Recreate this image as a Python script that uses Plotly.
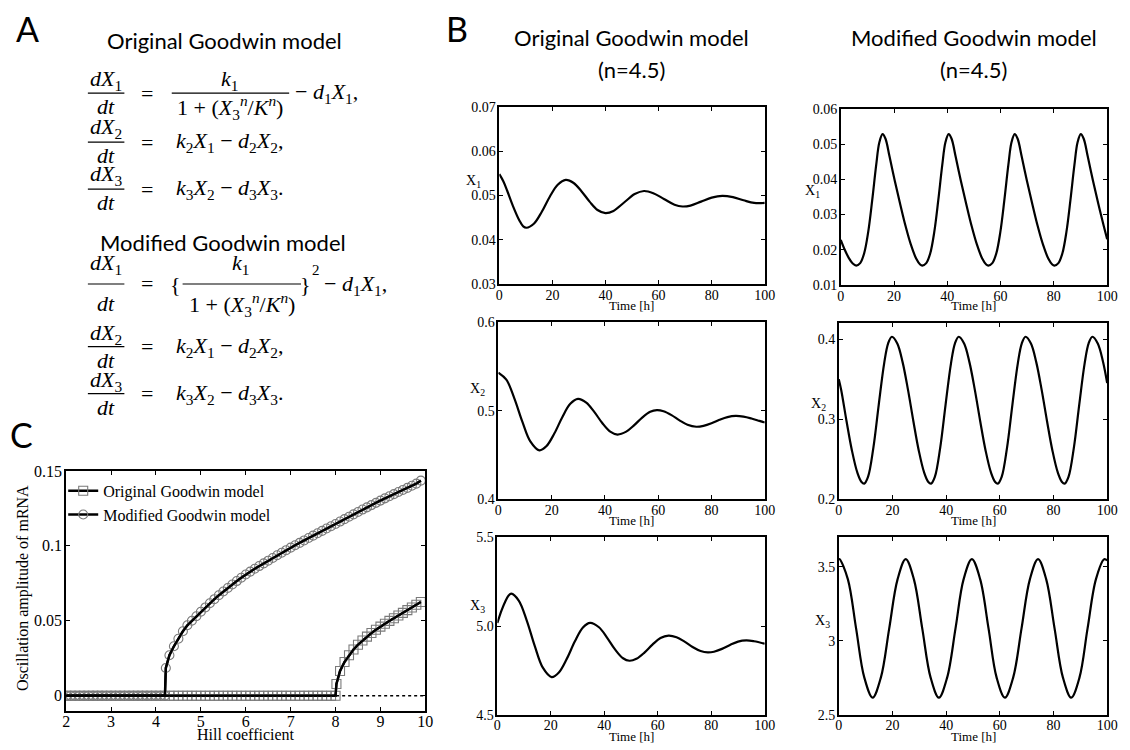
import plotly.graph_objects as go

W, H = 1130, 750


def fx(p):
    return p / W


def fy(p):
    return 1 - p / H


SERIF = "Liberation Serif, Times New Roman, serif"
SANS = "Lato, Noto Sans, sans-serif"

# ---------------- Panel C data (Hill coefficient vs amplitude) ----------------
hill_original = [2.0, 2.1, 2.2, 2.3, 2.4, 2.5, 2.6, 2.7, 2.8, 2.9,
                 3.0, 3.1, 3.2, 3.3, 3.4, 3.5, 3.6, 3.7, 3.8, 3.9,
                 4.0, 4.1, 4.2, 4.3, 4.4, 4.5, 4.6, 4.7, 4.8, 4.9,
                 5.0, 5.1, 5.2, 5.3, 5.4, 5.5, 5.6, 5.7, 5.8, 5.9,
                 6.0, 6.1, 6.2, 6.3, 6.4, 6.5, 6.6, 6.7, 6.8, 6.9,
                 7.0, 7.1, 7.2, 7.3, 7.4, 7.5, 7.6, 7.7, 7.8, 7.9,
                 8.0, 8.02, 8.1, 8.2, 8.3, 8.4, 8.5, 8.6, 8.7, 8.8,
                 8.9, 9.0, 9.1, 9.2, 9.3, 9.4, 9.5, 9.6, 9.7, 9.8, 9.9]
amp_original = [0.0, 0.0, 0.0, 0.0, 0.0, 0.0, 0.0, 0.0, 0.0, 0.0,
                0.0, 0.0, 0.0, 0.0, 0.0, 0.0, 0.0, 0.0, 0.0, 0.0,
                0.0, 0.0, 0.0, 0.0, 0.0, 0.0, 0.0, 0.0, 0.0, 0.0,
                0.0, 0.0, 0.0, 0.0, 0.0, 0.0, 0.0, 0.0, 0.0, 0.0,
                0.0, 0.0, 0.0, 0.0, 0.0, 0.0, 0.0, 0.0, 0.0, 0.0,
                0.0, 0.0, 0.0, 0.0, 0.0, 0.0, 0.0, 0.0, 0.0, 0.0,
                0.0, 0.0078, 0.0165, 0.0225, 0.0270, 0.0308, 0.0340, 0.0368, 0.0394, 0.0418,
                0.0440, 0.0461, 0.0480, 0.0499, 0.0517, 0.0535, 0.0553, 0.0571, 0.0589, 0.0607, 0.0625]

hill_modified = [2.0, 2.1, 2.2, 2.3, 2.4, 2.5, 2.6, 2.7, 2.8, 2.9,
                 3.0, 3.1, 3.2, 3.3, 3.4, 3.5, 3.6, 3.7, 3.8, 3.9,
                 4.0, 4.1, 4.2, 4.22, 4.3, 4.4, 4.5, 4.6, 4.7, 4.8, 4.9,
                 5.0, 5.1, 5.2, 5.3, 5.4, 5.5, 5.6, 5.7, 5.8, 5.9,
                 6.0, 6.1, 6.2, 6.3, 6.4, 6.5, 6.6, 6.7, 6.8, 6.9,
                 7.0, 7.1, 7.2, 7.3, 7.4, 7.5, 7.6, 7.7, 7.8, 7.9,
                 8.0, 8.1, 8.2, 8.3, 8.4, 8.5, 8.6, 8.7, 8.8, 8.9,
                 9.0, 9.1, 9.2, 9.3, 9.4, 9.5, 9.6, 9.7, 9.8, 9.9]
amp_modified = [0.0, 0.0, 0.0, 0.0, 0.0, 0.0, 0.0, 0.0, 0.0, 0.0,
                0.0, 0.0, 0.0, 0.0, 0.0, 0.0, 0.0, 0.0, 0.0, 0.0,
                0.0, 0.0, 0.0, 0.0185, 0.0270, 0.0330, 0.0380, 0.0430, 0.0470, 0.0500, 0.0530,
                0.0560, 0.0589, 0.0617, 0.0644, 0.0670, 0.0695, 0.0719, 0.0742, 0.0765, 0.0787,
                0.0809, 0.0828, 0.0847, 0.0865, 0.0883, 0.0901, 0.0919, 0.0937, 0.0954, 0.0971,
                0.0988, 0.1004, 0.1020, 0.1036, 0.1052, 0.1068, 0.1084, 0.1100, 0.1116, 0.1131,
                0.1146, 0.1162, 0.1178, 0.1194, 0.1210, 0.1226, 0.1242, 0.1257, 0.1272, 0.1287,
                0.1302, 0.1317, 0.1331, 0.1345, 0.1359, 0.1373, 0.1387, 0.1401, 0.1415, 0.1435]

zero_line_x = [2, 10]
zero_line_y = [0, 0]

hill_ticks = [2, 3, 4, 5, 6, 7, 8, 9, 10]
amp_ticks = [0, 0.05, 0.1, 0.15]
amp_ticktext = ["0", "0.05", "0.1", "0.15"]

# ---------------- Panel B data (time courses, n = 4.5) ----------------
time_ticks = [0, 20, 40, 60, 80, 100]

t_x1_orig = [0, 1.5, 3, 5, 7.5, 9, 10.2, 13, 16, 19, 22, 25, 28, 31, 34, 37, 40, 43, 47, 51,
             54.5, 58, 62, 66, 69, 72, 76, 80, 84, 88, 92, 96, 100]
x1_orig = [0.0548, 0.0532, 0.0510, 0.0478, 0.0444, 0.0430, 0.0427, 0.0436, 0.0463, 0.0497,
           0.0524, 0.0535, 0.0528, 0.0509, 0.0486, 0.0467, 0.0460, 0.0465, 0.0484, 0.0503,
           0.0510, 0.0505, 0.0492, 0.0479, 0.0475, 0.0477, 0.0486, 0.0495, 0.0499, 0.0496,
           0.0489, 0.0483, 0.0483]

t_x2_orig = [0, 3, 6, 9, 12, 15.4, 18, 21, 24, 27, 29.9, 33, 36, 39, 42, 44.7, 48, 51, 54, 57,
             59.5, 62, 65, 68, 71, 74.3, 77, 80, 83, 86, 89.1, 92, 95, 98, 100]
x2_orig = [0.543, 0.535, 0.514, 0.4877, 0.4654, 0.4553, 0.4598, 0.4742, 0.4927, 0.5078,
           0.5133, 0.5091, 0.4987, 0.4861, 0.4763, 0.4731, 0.4764, 0.4837, 0.4923, 0.4988,
           0.5007, 0.4994, 0.4950, 0.4891, 0.4841, 0.4819, 0.4829, 0.4858, 0.4897, 0.4928,
           0.4941, 0.4933, 0.4912, 0.4885, 0.4867]

t_x3_orig = [0, 1.5, 3, 4.2, 5.2, 8, 11, 14, 17, 20.3, 23, 26, 29, 32, 34.7, 38, 41, 44, 47,
             49.4, 52, 55, 58, 61, 64, 67, 70, 73, 76, 78.7, 81, 84, 87, 90, 93.1, 96, 100]
x3_orig = [5.017, 5.085, 5.140, 5.172, 5.183, 5.144, 5.031, 4.887, 4.765, 4.712, 4.738, 4.816,
           4.914, 4.992, 5.018, 4.993, 4.935, 4.868, 4.818, 4.804, 4.815, 4.850, 4.895, 4.932,
           4.946, 4.937, 4.912, 4.882, 4.859, 4.851, 4.855, 4.871, 4.893, 4.912, 4.919, 4.914,
           4.900]

t_x1_mod = [0, 1.5, 3, 4.5, 5.8, 7.3, 8.8, 10.3, 11.8, 13.3, 14.5, 15.7, 16.8, 18.3, 20.3, 22.3,
            24.3, 26.3, 28.3, 29.8, 30.6, 32.1, 33.6, 35.1, 36.6, 38.1, 39.3, 40.5, 41.6, 43.1,
            45.1, 47.1, 49.1, 51.1, 53.1, 54.6, 55.4, 56.9, 58.4, 59.9, 61.4, 62.9, 64.1, 65.3,
            66.4, 67.9, 69.9, 71.9, 73.9, 75.9, 77.9, 79.4, 80.2, 81.7, 83.2, 84.7, 86.2, 87.7,
            88.9, 90.1, 91.2, 92.7, 94.7, 96.7, 98.7, 100]
x1_mod = [0.0228, 0.0200, 0.0177, 0.0161, 0.0155, 0.0162, 0.0190, 0.0250, 0.0340, 0.0440,
          0.0505, 0.0528, 0.0515, 0.0465, 0.0395, 0.0330, 0.0268, 0.0215, 0.0175, 0.0158,
          0.0155, 0.0162, 0.0190, 0.0250, 0.0340, 0.0440, 0.0505, 0.0528, 0.0515, 0.0465,
          0.0395, 0.0330, 0.0268, 0.0215, 0.0175, 0.0158, 0.0155, 0.0162, 0.0190, 0.0250,
          0.0340, 0.0440, 0.0505, 0.0528, 0.0515, 0.0465, 0.0395, 0.0330, 0.0268, 0.0215,
          0.0175, 0.0158, 0.0155, 0.0162, 0.0190, 0.0250, 0.0340, 0.0440, 0.0505, 0.0528,
          0.0515, 0.0465, 0.0395, 0.0330, 0.0268, 0.0230]

t_x2_mod = [0, 0.9, 2.9, 4.9, 6.9, 8.4, 9.5, 10.9, 12.9, 14.9, 16.9, 18.4, 19.8,
            21.8, 23.8, 25.8, 27.8, 29.8, 31.8, 33.3, 34.4, 35.8, 37.8, 39.8, 41.8, 43.3, 44.7,
            46.7, 48.7, 50.7, 52.7, 54.7, 56.7, 58.2, 59.3, 60.7, 62.7, 64.7, 66.7, 68.2, 69.6,
            71.6, 73.6, 75.6, 77.6, 79.6, 81.6, 83.1, 84.2, 85.6, 87.6, 89.6, 91.6, 93.1, 94.5,
            96.5, 98.5, 100]
x2_mod = [0.350, 0.3366, 0.2975, 0.261, 0.2335, 0.222, 0.2196, 0.2279, 0.2645, 0.3183, 0.3695, 0.3948, 0.403,
          0.3946, 0.371, 0.3366, 0.2975, 0.261, 0.2335, 0.222, 0.2196, 0.2279, 0.2645, 0.3183, 0.3695, 0.3948, 0.403,
          0.3946, 0.371, 0.3366, 0.2975, 0.261, 0.2335, 0.222, 0.2196, 0.2279, 0.2645, 0.3183, 0.3695, 0.3948, 0.403,
          0.3946, 0.371, 0.3366, 0.2975, 0.261, 0.2335, 0.222, 0.2196, 0.2279, 0.2645, 0.3183, 0.3695, 0.3948, 0.403,
          0.3946, 0.371, 0.345]

t_x3_mod = [0, 0.3, 3.4, 6.45, 9.5, 12.6, 15.7, 18.8, 21.9, 24.95, 28.0, 31.1, 34.2, 37.3, 40.4,
            43.5, 46.5, 49.6, 52.7, 55.8, 58.8, 61.9, 65.0, 68.1, 71.2, 74.25, 77.3, 80.4, 83.5,
            86.6, 89.7, 92.7, 95.8, 98.9, 100]
x3_mod = [3.552, 3.553, 3.416, 3.084, 2.752, 2.615, 2.752, 3.084, 3.416, 3.553, 3.416, 3.084,
          2.752, 2.615, 2.752, 3.084, 3.416, 3.553, 3.416, 3.084, 2.752, 2.615, 2.752, 3.084,
          3.416, 3.553, 3.416, 3.084, 2.752, 2.615, 2.752, 3.084, 3.416, 3.553, 3.545]

# ---------------- figure ----------------
fig = go.Figure()

panels = [
    dict(xp=(63, 427), yp=(473, 718), xr=[2, 10], yr=[-0.01, 0.15], yt=amp_ticks, ytt=amp_ticktext,
         xt=hill_ticks, fs=16, lw=1.8, xso=-5),
    dict(xp=(502, 771), yp=(101, 282), xr=[0, 100], yr=[0.03, 0.07], yt=[0.03, 0.04, 0.05, 0.06, 0.07],
         ytt=["0.03", "0.04", "0.05", "0.06", "0.07"], xt=time_ticks, fs=14, lw=1.6, xso=-3),
    dict(xp=(848, 1118), yp=(103, 283), xr=[0, 100], yr=[0.01, 0.06], yt=[0.01, 0.02, 0.03, 0.04, 0.05, 0.06],
         ytt=["0.01", "0.02", "0.03", "0.04", "0.05", "0.06"], xt=time_ticks, fs=14, lw=1.6, xso=-3),
    dict(xp=(501, 771), yp=(321, 502), xr=[0, 100], yr=[0.4, 0.6], yt=[0.4, 0.5, 0.6],
         ytt=["0.4", "0.5", "0.6"], xt=time_ticks, fs=14, lw=1.6, xso=-3),
    dict(xp=(846, 1118), yp=(322, 502), xr=[0, 100], yr=[0.2, 0.42], yt=[0.2, 0.3, 0.4],
         ytt=["0.2", "0.3", "0.4"], xt=time_ticks, fs=14, lw=1.6, xso=-3),
    dict(xp=(500, 771), yp=(541, 722), xr=[0, 100], yr=[4.5, 5.5], yt=[4.5, 5.0, 5.5],
         ytt=["4.5", "5.0", "5.5"], xt=time_ticks, fs=14, lw=1.6, xso=-3),
    dict(xp=(846, 1118), yp=(541, 722), xr=[0, 100], yr=[2.5, 3.7], yt=[2.5, 3.0, 3.5],
         ytt=["2.5", "3", "3.5"], xt=time_ticks, fs=14, lw=1.6, xso=-3),
]

layout_axes = {}
for i, p in enumerate(panels, start=1):
    sx = "" if i == 1 else str(i)
    common = dict(showline=True, linecolor="black", linewidth=p["lw"], mirror="allticks",
                  ticks="inside", ticklen=4, tickwidth=1, tickcolor="black",
                  showgrid=False, zeroline=False, tickmode="array",
                  tickfont=dict(family=SERIF, size=p["fs"], color="black"))
    layout_axes["xaxis" + sx] = dict(domain=[fx(p["xp"][0]), fx(p["xp"][1])], anchor="y" + sx,
                                     range=p["xr"], tickvals=p["xt"], ticklabelstandoff=p["xso"],
                                     **common)
    layout_axes["yaxis" + sx] = dict(domain=[fy(p["yp"][1]), fy(p["yp"][0])], anchor="x" + sx,
                                     range=p["yr"], tickvals=p["yt"], ticktext=p["ytt"],
                                     ticklabelstandoff=-1, **common)

# Panel C traces
fig.add_trace(go.Scatter(x=zero_line_x, y=zero_line_y, mode="lines",
                         line=dict(color="black", width=1.5, dash="dot"),
                         showlegend=False, hoverinfo="skip", xaxis="x", yaxis="y"))
fig.add_trace(go.Scatter(x=hill_original, y=amp_original, mode="lines+markers",
                         name="Original Goodwin model",
                         line=dict(color="black", width=2.5),
                         marker=dict(symbol="square-open", size=9, color="#7a7a7a", line=dict(width=1.1)),
                         xaxis="x", yaxis="y"))
fig.add_trace(go.Scatter(x=hill_modified, y=amp_modified, mode="lines+markers",
                         name="Modified Goodwin model",
                         line=dict(color="black", width=2.5),
                         marker=dict(symbol="circle-open", size=9, color="#7a7a7a", line=dict(width=1.1)),
                         xaxis="x", yaxis="y"))
for xs, ys in [(hill_original, amp_original), (hill_modified, amp_modified)]:
    fig.add_trace(go.Scatter(x=xs, y=ys, mode="lines", line=dict(color="black", width=2.2),
                             showlegend=False, hoverinfo="skip", xaxis="x", yaxis="y"))

# Panel B traces
series_b = [(t_x1_orig, x1_orig), (t_x1_mod, x1_mod), (t_x2_orig, x2_orig),
            (t_x2_mod, x2_mod), (t_x3_orig, x3_orig), (t_x3_mod, x3_mod)]
for k, (ts, vs) in enumerate(series_b, start=2):
    fig.add_trace(go.Scatter(x=ts, y=vs, mode="lines",
                             line=dict(color="black", width=2.2, shape="spline", smoothing=1.0),
                             showlegend=False, xaxis="x" + str(k), yaxis="y" + str(k)))

annotations = []
shapes = []


def txt(s, x, y, size=22, family=SERIF, xanchor="center", yanchor="middle", angle=0):
    annotations.append(dict(text=s, x=fx(x), y=fy(y), xref="paper", yref="paper",
                            xanchor=xanchor, yanchor=yanchor, showarrow=False, textangle=angle,
                            font=dict(family=family, size=size, color="black")))


def bar(x0, x1, y):
    shapes.append(dict(type="line", xref="paper", yref="paper", x0=fx(x0), x1=fx(x1),
                       y0=fy(y), y1=fy(y), line=dict(color="black", width=1.2)))


# Panel letters
txt("A", 24, 21, 34, SANS)
txt("B", 459, 21, 34, SANS)
txt("C", 18, 436, 34, SANS)

# Panel A equations
txt("Original Goodwin model", 223, 33, 22, SANS)
txt("<i>dX</i><sub>1</sub>", 103, 74)
bar(85, 122, 87)
txt("<i>dt</i>", 103, 101)
txt("=", 145, 87)
txt("<i>k</i><sub>1</sub>", 229, 74)
bar(170, 289, 87)
txt("1 + (<i>X</i><sub>3</sub><sup><i>n</i></sup>/<i>K</i><sup><i>n</i></sup>)", 229, 102)
txt("− <i>d</i><sub>1</sub><i>X</i><sub>1</sub>,", 293, 87, xanchor="left")

txt("<i>dX</i><sub>2</sub>", 103, 123)
bar(85, 122, 137)
txt("<i>dt</i>", 103, 151)
txt("=", 145, 137)
txt("<i>k</i><sub>2</sub><i>X</i><sub>1</sub> − <i>d</i><sub>2</sub><i>X</i><sub>2</sub>,", 172, 137, xanchor="left")

txt("<i>dX</i><sub>3</sub>", 103, 171)
bar(85, 122, 185)
txt("<i>dt</i>", 103, 199)
txt("=", 145, 185)
txt("<i>k</i><sub>3</sub><i>X</i><sub>2</sub> − <i>d</i><sub>3</sub><i>X</i><sub>3</sub>.", 172, 185, xanchor="left")

txt("Modified Goodwin model", 222, 240, 22, SANS)
txt("<i>dX</i><sub>1</sub>", 103, 262)
bar(85, 122, 282)
txt("<i>dt</i>", 103, 302)
txt("=", 145, 282)
txt("{", 174, 283)
txt("<i>k</i><sub>1</sub>", 240, 262)
bar(181, 301, 282)
txt("1 + (<i>X</i><sub>3</sub><sup><i>n</i></sup>/<i>K</i><sup><i>n</i></sup>)", 241, 303)
txt("}", 306, 283)
txt("2", 316, 268, 15)
txt("− <i>d</i><sub>1</sub><i>X</i><sub>1</sub>,", 322, 283, xanchor="left")

txt("<i>dX</i><sub>2</sub>", 103, 333)
bar(85, 122, 346)
txt("<i>dt</i>", 103, 360)
txt("=", 145, 346)
txt("<i>k</i><sub>2</sub><i>X</i><sub>1</sub> − <i>d</i><sub>2</sub><i>X</i><sub>2</sub>,", 172, 346, xanchor="left")

txt("<i>dX</i><sub>3</sub>", 103, 381)
bar(85, 122, 394)
txt("<i>dt</i>", 103, 408)
txt("=", 145, 394)
txt("<i>k</i><sub>3</sub><i>X</i><sub>2</sub> − <i>d</i><sub>3</sub><i>X</i><sub>3</sub>.", 172, 394, xanchor="left")

# Panel B titles
txt("Original Goodwin model", 636, 30, 22, SANS)
txt("(n=4.5)", 636, 63, 22, SANS)
txt("Modified Goodwin model", 983, 30, 22, SANS)
txt("(n=4.5)", 983, 63, 22, SANS)

# Panel B axis labels
for xc, yc in [(636, 304), (983, 304), (636, 524), (983, 524), (636, 744), (983, 744)]:
    txt("Time [h]", xc, yc, 13)
for s, xc, yc in [("X<sub>1</sub>", 476, 177), ("X<sub>1</sub>", 819, 187),
                  ("X<sub>2</sub>", 480, 390), ("X<sub>2</sub>", 825, 405),
                  ("X<sub>3</sub>", 480, 612), ("X<sub>3</sub>", 830, 627)]:
    txt(s, xc, yc, 14)

# Panel C axis labels
txt("Hill coefficient", 245, 742, 16)
txt("Oscillation amplitude of mRNA", 20, 593, 16, angle=-90)

fig.update_layout(
    width=W, height=H, margin=dict(l=0, r=0, t=0, b=0),
    paper_bgcolor="white", plot_bgcolor="white",
    showlegend=True,
    legend=dict(x=fx(60), y=fy(476), xanchor="left", yanchor="top", bgcolor="rgba(0,0,0,0)",
                font=dict(family=SERIF, size=16, color="black"), itemwidth=30,
                tracegroupgap=0, borderwidth=0),
    annotations=annotations, shapes=shapes,
    **layout_axes,
)

fig.write_html(
    "out.html",
    config={"displayModeBar": False},
    post_script="document.body.style.margin='0';document.body.style.overflow='hidden';"
                "document.documentElement.style.overflow='hidden';",
)
